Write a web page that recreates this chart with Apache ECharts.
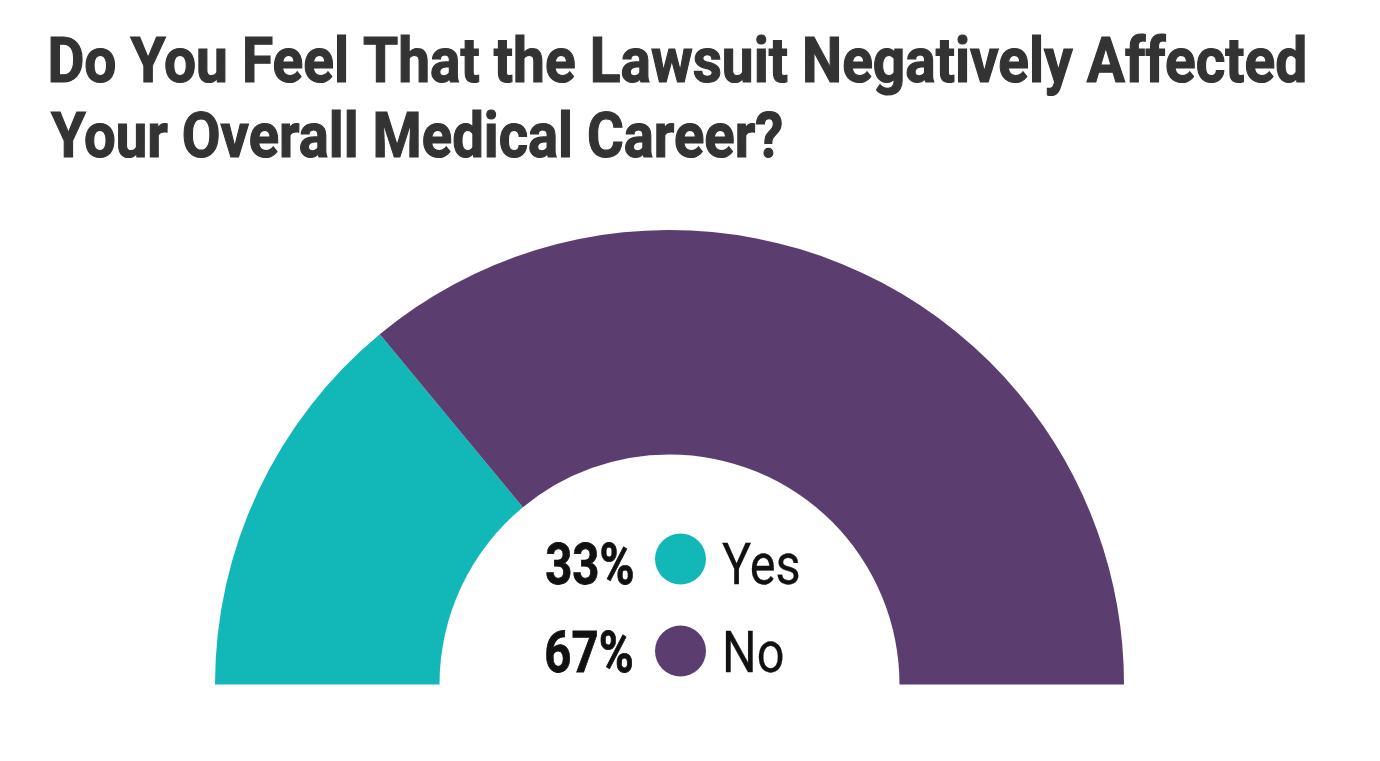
<!DOCTYPE html>
<html>
<head>
<meta charset="utf-8">
<script src="https://cdn.jsdelivr.net/npm/echarts@6/dist/echarts.min.js"></script>
<style>
html,body{margin:0;padding:0;background:#fff;}
#chart{width:1380px;height:761px;}
</style>
</head>
<body>
<div id="chart"></div>
<script>
// Data
var categories = ['Yes', 'No'];
var percentLabels = ['33%', '67%'];
// arc shares as drawn in the picture (boundary at ~50° of the half ring)
var arcShares = [28, 72];
var colors = ['#12B8B7', '#5B3E6F'];
var titleLines = ['Do You Feel That the Lawsuit Negatively Affected', 'Your Overall Medical Career?'];

var chart = echarts.init(document.getElementById('chart'), null, {renderer: 'canvas'});

// measure ink extents to emulate a condensed face with horizontal scaling
var mctx = document.createElement('canvas').getContext('2d');
function ink(text, font) {
  mctx.font = font;
  mctx.textBaseline = 'middle';
  var m = mctx.measureText(text);
  var h = mctx.measureText('H');
  return {
    l: m.actualBoundingBoxLeft,
    w: m.actualBoundingBoxLeft + m.actualBoundingBoxRight,
    capOff: (h.actualBoundingBoxDescent - h.actualBoundingBoxAscent) / 2
  };
}
// places text so its ink spans [x0, x0+w] horizontally, cap centre at yc
function fittedText(text, weight, size, x0, width, yc, color, scaleOverride, strokeW) {
  var font = weight + ' ' + size + 'px Roboto';
  var m = ink(text, font);
  var s = scaleOverride || width / m.w;
  var st = {
    text: text,
    font: font,
    fill: color,
    textAlign: 'left',
    textVerticalAlign: 'middle'
  };
  if (strokeW) { st.stroke = color; st.lineWidth = strokeW; }
  return {
    type: 'text',
    x: x0 + m.l * s,
    y: yc - m.capOff,
    scaleX: s,
    silent: true,
    style: st,
    _scale: s
  };
}

var graphics = [];
// title
graphics.push(fittedText(titleLines[0], 'bold', 63, 51, 1254, 59.8, '#333333', null, 1.2));
graphics.push(fittedText(titleLines[1], 'bold', 63, 51, 731, 134.5, '#333333', null, 1.2));
// legend values and names
var rowY = [563.7, 651.5];
var pctScale = null, nameScale = null;
percentLabels.forEach(function (t, i) {
  var g = fittedText(t, 'bold', 58, 546, 87, rowY[i], '#111111', pctScale, 0.8);
  if (!pctScale) pctScale = g._scale;
  graphics.push(g);
});
categories.forEach(function (t, i) {
  var g = fittedText(t, 'normal', 58, 722, 77, rowY[i], '#111111', nameScale, 0.3);
  if (!nameScale) nameScale = g._scale;
  if (i > 0) g.x = graphics[graphics.length - 1].x;
  graphics.push(g);
});
graphics.forEach(function (g) { delete g._scale; });

var option = {
  animation: false,
  backgroundColor: '#ffffff',
  legend: {
    orient: 'vertical',
    left: 650,
    top: 528.5,
    icon: 'circle',
    itemWidth: 51,
    itemHeight: 51,
    itemGap: 41,
    selectedMode: false,
    data: categories,
    formatter: function () { return ''; },
    textStyle: {fontSize: 10}
  },
  graphic: graphics,
  series: [{
    type: 'pie',
    center: [669.5, 684.5],
    radius: [230, 454.5],
    startAngle: 180,
    endAngle: 0,
    clockwise: true,
    silent: true,
    label: {show: false},
    labelLine: {show: false},
    emphasis: {disabled: true},
    itemStyle: {borderWidth: 0},
    data: categories.map(function (c, i) {
      return {name: c, value: arcShares[i], itemStyle: {color: colors[i]}};
    })
  }]
};
chart.setOption(option);
</script>
</body>
</html>
